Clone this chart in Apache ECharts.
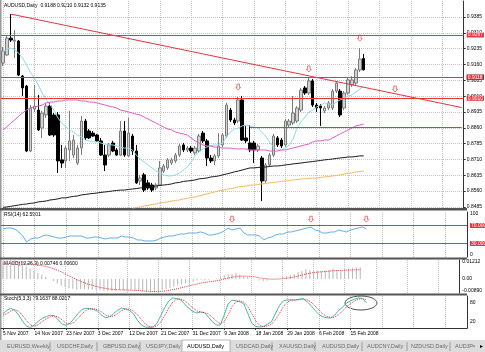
<!DOCTYPE html>
<html>
<head>
<meta charset="utf-8">
<script src="https://cdn.jsdelivr.net/npm/echarts@6/dist/echarts.min.js"></script>
<style>
html, body { margin: 0; padding: 0; background: #fff; }
#chart { width: 485px; height: 352px; }
</style>
</head>
<body>
<div id="chart"></div>
<script>
// bar dates (broker feed, incl. sunday bars)
const dates = ['5 Nov 2007','6 Nov 2007','7 Nov 2007','8 Nov 2007','9 Nov 2007','11 Nov 2007','12 Nov 2007','13 Nov 2007','14 Nov 2007','15 Nov 2007','16 Nov 2007','18 Nov 2007','19 Nov 2007','20 Nov 2007','21 Nov 2007','22 Nov 2007','23 Nov 2007','25 Nov 2007','26 Nov 2007','27 Nov 2007','28 Nov 2007','29 Nov 2007','30 Nov 2007','2 Dec 2007','3 Dec 2007','4 Dec 2007','5 Dec 2007','6 Dec 2007','7 Dec 2007','9 Dec 2007','10 Dec 2007','11 Dec 2007','12 Dec 2007','13 Dec 2007','14 Dec 2007','16 Dec 2007','17 Dec 2007','18 Dec 2007','19 Dec 2007','20 Dec 2007','21 Dec 2007','23 Dec 2007','24 Dec 2007','25 Dec 2007','26 Dec 2007','27 Dec 2007','28 Dec 2007','30 Dec 2007','31 Dec 2007','1 Jan 2008','2 Jan 2008','3 Jan 2008','4 Jan 2008','6 Jan 2008','7 Jan 2008','8 Jan 2008','9 Jan 2008','10 Jan 2008','11 Jan 2008','13 Jan 2008','14 Jan 2008','15 Jan 2008','16 Jan 2008','17 Jan 2008','18 Jan 2008','20 Jan 2008','21 Jan 2008','22 Jan 2008','23 Jan 2008','24 Jan 2008','25 Jan 2008','28 Jan 2008','29 Jan 2008','30 Jan 2008','31 Jan 2008','1 Feb 2008','2 Feb 2008','3 Feb 2008','4 Feb 2008','5 Feb 2008','6 Feb 2008','7 Feb 2008','8 Feb 2008','10 Feb 2008','11 Feb 2008','12 Feb 2008','13 Feb 2008','14 Feb 2008','15 Feb 2008','17 Feb 2008','18 Feb 2008','19 Feb 2008','20 Feb 2008'];

const tickLabels = ['5 Nov 2007','14 Nov 2007','23 Nov 2007','3 Dec 2007','12 Dec 2007','21 Dec 2007','31 Dec 2007','9 Jan 2008','18 Jan 2008','29 Jan 2008','6 Feb 2008','15 Feb 2008'];

// [open, close, low, high]
const ohlc = [
  [0.9167,0.9224,0.9153,0.9243],[0.9205,0.9285,0.9200,0.9300],[0.9285,0.9276,0.9267,0.9399],[0.9271,0.9276,0.9191,0.9323],
  [0.9271,0.9110,0.9105,0.9276],[0.9105,0.9049,0.9011,0.9110],[0.9058,0.8750,0.8745,0.9063],[0.8750,0.8954,0.8745,0.8968],
  [0.8949,0.8963,0.8935,0.9063],[0.8944,0.8850,0.8845,0.9016],[0.8859,0.8930,0.8812,0.8940],[0.8921,0.8963,0.8907,0.8978],
  [0.8963,0.8826,0.8821,0.8978],[0.8921,0.8826,0.8817,0.8930],[0.8921,0.8703,0.8646,0.8935],[0.8708,0.8693,0.8670,0.8779],
  [0.8703,0.8764,0.8670,0.8774],[0.8755,0.8798,0.8703,0.8940],[0.8731,0.8802,0.8717,0.8826],[0.8693,0.8764,0.8684,0.8779],
  [0.8764,0.8892,0.8731,0.8916],[0.8892,0.8812,0.8802,0.8902],[0.8845,0.8812,0.8807,0.8854],[0.8835,0.8821,0.8817,0.8845],
  [0.8826,0.8798,0.8793,0.8831],[0.8798,0.8731,0.8727,0.8812],[0.8731,0.8684,0.8655,0.8779],[0.8731,0.8779,0.8722,0.8788],
  [0.8788,0.8750,0.8745,0.8798],[0.8755,0.8731,0.8727,0.8764],[0.8731,0.8845,0.8727,0.8892],[0.8845,0.8731,0.8722,0.8892],
  [0.8727,0.8835,0.8722,0.8907],[0.8821,0.8750,0.8731,0.8831],[0.8750,0.8599,0.8594,0.8779],[0.8608,0.8622,0.8589,0.8637],
  [0.8637,0.8565,0.8556,0.8646],[0.8599,0.8575,0.8565,0.8613],[0.8589,0.8565,0.8556,0.8599],[0.8575,0.8589,0.8565,0.8599],
  [0.8589,0.8670,0.8584,0.8703],[0.8655,0.8679,0.8646,0.8689],[0.8670,0.8708,0.8660,0.8717],[0.8693,0.8708,0.8684,0.8717],
  [0.8703,0.8731,0.8693,0.8741],[0.8731,0.8774,0.8722,0.8783],[0.8779,0.8755,0.8745,0.8788],[0.8755,0.8764,0.8745,0.8774],
  [0.8764,0.8750,0.8741,0.8774],[0.8741,0.8764,0.8731,0.8774],[0.8750,0.8821,0.8741,0.8831],[0.8835,0.8798,0.8788,0.8845],
  [0.8798,0.8717,0.8679,0.8807],[0.8717,0.8703,0.8693,0.8731],[0.8703,0.8727,0.8684,0.8736],[0.8727,0.8774,0.8717,0.8835],
  [0.8779,0.8826,0.8769,0.8835],[0.8821,0.8968,0.8812,0.8978],[0.8944,0.8897,0.8888,0.8954],[0.8897,0.8883,0.8873,0.8907],
  [0.8892,0.8992,0.8883,0.9006],[0.8992,0.8802,0.8798,0.9011],[0.8812,0.8798,0.8788,0.8869],[0.8788,0.8755,0.8745,0.8873],
  [0.8788,0.8755,0.8693,0.8798],[0.8755,0.8774,0.8745,0.8783],[0.8717,0.8608,0.8513,0.8727],[0.8608,0.8684,0.8599,0.8693],
  [0.8684,0.8731,0.8674,0.8741],[0.8731,0.8821,0.8722,0.8831],[0.8812,0.8779,0.8769,0.8821],[0.8802,0.8774,0.8764,0.8812],
  [0.8779,0.8892,0.8769,0.8902],[0.8873,0.8892,0.8864,0.8902],[0.8883,0.8930,0.8873,0.9011],[0.8892,0.8954,0.8883,0.8963],
  [0.8944,0.9039,0.8935,0.9049],[0.9049,0.9025,0.9016,0.9058],[0.9025,0.9082,0.9016,0.9096],[0.9082,0.8968,0.8959,0.9091],
  [0.8968,0.8954,0.8935,0.8978],[0.8963,0.8954,0.8869,0.8973],[0.8940,0.8954,0.8930,0.8963],[0.8954,0.8978,0.8944,0.8987],
  [0.8954,0.9034,0.8944,0.9044],[0.9034,0.9072,0.9025,0.9082],[0.9034,0.8921,0.8911,0.9044],[0.8954,0.9025,0.8944,0.9034],
  [0.9025,0.9087,0.9016,0.9096],[0.9063,0.9087,0.9053,0.9105],[0.9072,0.9134,0.9063,0.9143],[0.9134,0.9186,0.9124,0.9238],
  [0.9188,0.9135,0.9132,0.9210]
];

// moving averages
const maCyan = [0.9219,0.9233,0.9238,0.9229,0.9214,0.9191,0.9158,0.9124,0.9096,0.9063,0.9025,0.8997,0.8968,0.8944,0.8907,0.8883,0.8864,0.8850,0.8840,0.8826,0.8817,0.8802,0.8798,0.8793,0.8793,0.8788,0.8783,0.8779,0.8779,0.8774,0.8769,0.8764,0.8764,0.8755,0.8731,0.8712,0.8698,0.8684,0.8670,0.8655,0.8646,0.8637,0.8632,0.8632,0.8637,0.8646,0.8660,0.8674,0.8698,0.8727,0.8745,0.8760,0.8769,0.8774,0.8779,0.8779,0.8788,0.8817,0.8840,0.8854,0.8859,0.8869,0.8873,0.8869,0.8864,0.8859,0.8840,0.8821,0.8793,0.8769,0.8755,0.8755,0.8764,0.8779,0.8807,0.8859,0.8888,0.8911,0.8935,0.8944,0.8959,0.8968,0.8978,0.8973,0.8968,0.8982,0.8992,0.9001,0.9011,0.9016,0.9030,0.9044,0.9058];
const maPink = [0.8850,0.8864,0.8883,0.8897,0.8916,0.8930,0.8944,0.8954,0.8959,0.8963,0.8968,0.8978,0.8982,0.8982,0.8987,0.8987,0.8992,0.8992,0.8992,0.8992,0.8987,0.8987,0.8982,0.8982,0.8978,0.8973,0.8968,0.8963,0.8959,0.8954,0.8944,0.8940,0.8935,0.8930,0.8925,0.8921,0.8911,0.8902,0.8892,0.8883,0.8873,0.8864,0.8854,0.8850,0.8840,0.8835,0.8831,0.8826,0.8812,0.8798,0.8788,0.8779,0.8774,0.8774,0.8769,0.8769,0.8764,0.8764,0.8764,0.8760,0.8760,0.8760,0.8760,0.8755,0.8755,0.8755,0.8755,0.8755,0.8750,0.8750,0.8750,0.8755,0.8755,0.8760,0.8764,0.8769,0.8774,0.8779,0.8783,0.8793,0.8798,0.8798,0.8802,0.8802,0.8812,0.8821,0.8831,0.8840,0.8850,0.8859,0.8869,0.8873,0.8878];
const maBlack = [0.8483,0.8485,0.8488,0.8491,0.8494,0.8497,0.8499,0.8502,0.8504,0.8509,0.8511,0.8513,0.8518,0.8520,0.8523,0.8528,0.8528,0.8532,0.8535,0.8537,0.8542,0.8544,0.8547,0.8549,0.8551,0.8554,0.8556,0.8558,0.8561,0.8563,0.8565,0.8565,0.8568,0.8570,0.8572,0.8575,0.8577,0.8580,0.8582,0.8584,0.8587,0.8589,0.8591,0.8594,0.8599,0.8601,0.8606,0.8608,0.8610,0.8613,0.8618,0.8620,0.8622,0.8627,0.8629,0.8632,0.8637,0.8641,0.8646,0.8651,0.8655,0.8660,0.8665,0.8670,0.8670,0.8672,0.8674,0.8674,0.8677,0.8679,0.8679,0.8681,0.8684,0.8686,0.8689,0.8691,0.8693,0.8696,0.8698,0.8700,0.8703,0.8705,0.8708,0.8710,0.8712,0.8715,0.8717,0.8719,0.8722,0.8722,0.8724,0.8727,0.8727];
const maOrangeStart = 33;
const maOrange = [0.8478,0.8482,0.8485,0.8490,0.8492,0.8497,0.8499,0.8504,0.8506,0.8509,0.8513,0.8516,0.8518,0.8523,0.8525,0.8530,0.8532,0.8537,0.8542,0.8547,0.8551,0.8556,0.8561,0.8563,0.8568,0.8572,0.8575,0.8580,0.8582,0.8584,0.8589,0.8589,0.8591,0.8594,0.8596,0.8599,0.8601,0.8603,0.8606,0.8608,0.8610,0.8613,0.8615,0.8618,0.8618,0.8620,0.8622,0.8622,0.8625,0.8627,0.8629,0.8632,0.8634,0.8637,0.8641,0.8644,0.8646,0.8651,0.8653,0.8655];

const rsi = [62.2,64.4,64.4,62.2,55.6,46.7,33.3,40.0,42.2,42.2,46.7,48.9,46.7,44.4,42.2,42.2,44.4,46.7,46.7,46.7,46.7,42.2,42.2,44.4,44.4,42.2,40.0,42.2,42.2,42.2,46.7,44.4,44.4,42.2,37.8,37.8,35.6,35.6,35.6,37.8,42.2,44.4,46.7,46.7,48.9,51.1,51.1,53.3,53.3,53.3,55.6,53.3,48.9,48.9,51.1,53.3,57.8,64.4,60.0,62.2,64.4,53.3,48.9,48.9,48.9,46.7,37.8,42.2,44.4,48.9,51.1,51.1,55.6,55.6,57.8,60.0,62.2,64.4,66.7,60.0,57.8,53.3,53.3,55.6,55.6,60.0,57.8,55.6,60.0,62.2,64.4,66.7,62.59];

const macdMain = [0.0115,0.0120,0.0121,0.0119,0.0112,0.0100,0.0078,0.0065,0.0052,0.0038,0.0025,0.0013,0.0000,-0.0012,-0.0028,-0.0042,-0.0052,-0.0058,-0.0062,-0.0066,-0.0064,-0.0065,-0.0067,-0.0068,-0.0069,-0.0072,-0.0075,-0.0074,-0.0074,-0.0075,-0.0070,-0.0072,-0.0068,-0.0068,-0.0074,-0.0078,-0.0082,-0.0084,-0.0086,-0.0084,-0.0077,-0.0071,-0.0064,-0.0057,-0.0049,-0.0041,-0.0035,-0.0029,-0.0024,-0.0018,-0.0010,-0.0005,-0.0006,-0.0005,-0.0002,0.0004,0.0012,0.0025,0.0030,0.0032,0.0040,0.0028,0.0020,0.0012,0.0006,0.0002,-0.0010,-0.0012,-0.0010,-0.0002,0.0002,0.0004,0.0012,0.0018,0.0025,0.0032,0.0045,0.0052,0.0062,0.0058,0.0055,0.0052,0.0050,0.0052,0.0058,0.0065,0.0058,0.0058,0.0062,0.0065,0.0068,0.0075,0.00746];
const macdSignal = [0.0095,0.0098,0.0101,0.0103,0.0105,0.0104,0.0101,0.0097,0.0093,0.0089,0.0085,0.0080,0.0074,0.0066,0.0056,0.0046,0.0033,0.0020,0.0008,-0.0004,-0.0015,-0.0025,-0.0033,-0.0040,-0.0047,-0.0053,-0.0058,-0.0062,-0.0065,-0.0068,-0.0069,-0.0070,-0.0070,-0.0071,-0.0072,-0.0073,-0.0075,-0.0077,-0.0079,-0.0080,-0.0080,-0.0078,-0.0075,-0.0071,-0.0066,-0.0061,-0.0055,-0.0049,-0.0043,-0.0037,-0.0031,-0.0026,-0.0022,-0.0018,-0.0015,-0.0011,-0.0006,0.0000,0.0006,0.0011,0.0016,0.0018,0.0019,0.0018,0.0016,0.0013,0.0008,0.0004,0.0001,-0.0001,-0.0001,0.0000,0.0002,0.0005,0.0009,0.0013,0.0019,0.0025,0.0032,0.0037,0.0041,0.0044,0.0046,0.0048,0.0050,0.0053,0.0054,0.0055,0.0056,0.0057,0.0058,0.0059,0.0060];

const stochMain = [45,55,62,55,40,20,5,2,10,22,30,36,40,38,25,12,8,15,30,45,58,62,60,58,52,40,32,35,45,55,62,60,55,45,25,10,3,2,3,15,40,65,85,94,92,88,75,62,52,47,50,48,35,20,10,9,40,75,87,85,82,75,45,15,5,3,5,12,20,45,70,85,88,88,87,90,92,82,70,55,42,35,32,31,40,55,65,78,85,90,94,92,79.16];
const stochSignal = [40,45,54,57,52,38,22,9,6,11,21,29,35,38,34,25,15,12,18,30,44,55,60,60,57,50,41,36,37,45,54,59,59,53,42,27,13,5,3,7,19,40,63,81,90,91,85,75,63,54,50,48,44,34,22,13,20,41,67,82,85,81,67,45,22,8,4,7,12,26,45,67,81,87,88,88,90,88,81,69,56,44,36,33,34,42,53,66,76,84,90,92,88.02];

const priceTicks = [0.8485,0.8560,0.8635,0.8710,0.8785,0.8860,0.8935,0.9010,0.9085,0.9160,0.9235,0.9310,0.9385];
// horizontal line objects on the price window
const priceLevels = [0.9267, 0.9118, 0.9010];
const supportLevel = { from: 63, price: 0.8864 };
const trendLine = [[2, 0.9399], [117, 0.8956]];
const lastPrice = 0.9135;
const priceArrows = [[60, 0.9053], [78, 0.9139], [91, 0.9285], [100, 0.9044]];
const rsiLevels = [70, 30];
const rsiArrows = [[58, 84], [78, 84], [92, 84]];
const tabNames = ['EURUSD,Weekly','USDCHF,Daily','GBPUSD,Daily','USDJPY,Daily','AUDUSD,Daily','USDCAD,Daily','XAUUSD,Daily','AUDUSD,Daily','AUDCNY,Daily','NZDUSD,Daily','AUDJP'];

const SLOTS = 118;
const xCats = dates.concat(Array.from({ length: SLOTS - dates.length }, (_, i) => 'slot' + i));
const FONT = 'Liberation Sans, Arial, sans-serif';
const GRIDC = '#c4c4c4';
const RED = '#e8343c';
const arrowPath = 'path://M2,0 L6,0 L6,5 L8,5 L4,9 L0,5 L2,5 Z';

const everyEight = (idx) => idx % 8 === 0;
const showDate = (idx, val) => tickLabels.indexOf(val) >= 0;

function xAxisFor(gi, bottom) {
  return {
    type: 'category', gridIndex: gi, data: xCats, boundaryGap: true,
    axisLine: { show: bottom, lineStyle: { color: '#333' } },
    axisTick: { show: bottom, interval: showDate, alignWithLabel: true, length: 2, lineStyle: { color: '#333' } },
    axisLabel: { show: bottom, interval: showDate, fontSize: 5, fontFamily: FONT, color: '#000', align: 'left', margin: 3 },
    splitLine: { show: true, interval: everyEight, alignWithLabel: true, lineStyle: { color: GRIDC, type: 'dotted', width: 1 } }
  };
}

const axisText = { fontSize: 5, fontFamily: FONT, color: '#000', margin: 3 };
const edgeRich = {
  t: { fontSize: 5, fontFamily: FONT, color: '#000', padding: [4, 0, 0, 0] },
  b: { fontSize: 5, fontFamily: FONT, color: '#000', padding: [0, 0, 4, 0] }
};

const macdMax = 0.01212, macdMin = -0.0089;

// compact price box on the right axis
const boxLabel = (text, bg) => ({
  show: true, position: 'end', distance: 3, formatter: text, color: '#fff',
  backgroundColor: bg, fontSize: 5, lineHeight: 5, fontFamily: FONT, padding: [0, 1]
});

const chart = echarts.init(document.getElementById('chart'));

const option = {
  animation: false,
  backgroundColor: '#fff',
  grid: [
    { left: 1, top: 1, width: 466, height: 207 },
    { left: 1, top: 212, width: 466, height: 45 },
    { left: 1, top: 260, width: 466, height: 33 },
    { left: 1, top: 296, width: 466, height: 32 }
  ],
  xAxis: [xAxisFor(0, false), xAxisFor(1, false), xAxisFor(2, false), xAxisFor(3, true)],
  yAxis: [
    {
      type: 'value', gridIndex: 0, position: 'right', min: 0.8480, max: 0.9461, scale: true,
      axisLine: { show: true, lineStyle: { color: '#333' } },
      axisTick: { show: true, length: 2, customValues: priceTicks, lineStyle: { color: '#333' } },
      axisLabel: Object.assign({ customValues: priceTicks, formatter: v => v.toFixed(4) }, axisText),
      splitLine: { show: true, lineStyle: { color: GRIDC, type: 'dotted' } }
    },
    {
      type: 'value', gridIndex: 1, position: 'right', min: 0, max: 100,
      axisLine: { show: true, lineStyle: { color: '#333' } },
      axisTick: { show: false, customValues: [0, 100] },
      axisLabel: Object.assign({ customValues: [0, 100], rich: edgeRich,
        formatter: v => v === 100 ? '{t|100}' : '{b|0}' }, axisText),
      splitLine: { show: false }
    },
    {
      type: 'value', gridIndex: 2, position: 'right', min: macdMin, max: macdMax,
      axisLine: { show: true, lineStyle: { color: '#333' } },
      axisTick: { show: false, customValues: [macdMin, 0, macdMax] },
      axisLabel: Object.assign({ customValues: [macdMin, 0, macdMax], rich: edgeRich,
        formatter: v => v === 0 ? '0.00' : (v > 0 ? '{t|' + v.toFixed(5) + '}' : '{b|' + v.toFixed(5) + '}') }, axisText),
      splitLine: { show: false }
    },
    {
      type: 'value', gridIndex: 3, position: 'right', min: 0, max: 100,
      axisLine: { show: true, lineStyle: { color: '#333' } },
      axisTick: { show: false, customValues: [0, 20, 80, 100] },
      axisLabel: Object.assign({ customValues: [0, 20, 80, 100], rich: edgeRich,
        formatter: v => v === 100 ? '{t|100}' : (v === 0 ? '{b|0}' : String(v)) }, axisText),
      splitLine: { show: false }
    }
  ],
  series: [
    {
      type: 'candlestick', xAxisIndex: 0, yAxisIndex: 0, data: ohlc, barWidth: 3,
      itemStyle: { color: '#d2d2d2', color0: '#000', borderColor: '#7c7c7c', borderColor0: '#000', borderWidth: 1 },
      markLine: {
        silent: true, symbol: ['none', 'none'], animation: false,
        data: [
          {
            yAxis: lastPrice,
            lineStyle: { color: 'rgba(0,0,0,0)', width: 0 },
            label: boxLabel(lastPrice.toFixed(4), '#000')
          }
        ].concat(priceLevels.map(p => ({
          yAxis: p,
          lineStyle: { color: RED, width: 1, type: 'solid' },
          label: boxLabel(p.toFixed(4), RED)
        })), [
          [
            { coord: [supportLevel.from, supportLevel.price], lineStyle: { color: RED, width: 1, type: 'solid' }, label: { show: false } },
            { coord: [SLOTS - 1, supportLevel.price] }
          ],
          [
            { coord: trendLine[0], lineStyle: { color: RED, width: 1, type: 'solid' }, label: { show: false } },
            { coord: trendLine[1] }
          ]
        ])
      }
    },
    { type: 'line', xAxisIndex: 0, yAxisIndex: 0, data: maCyan, symbol: 'none', lineStyle: { color: '#88dfe6', width: 1 } },
    { type: 'line', xAxisIndex: 0, yAxisIndex: 0, data: maPink, symbol: 'none', lineStyle: { color: '#e35cc6', width: 1 } },
    { type: 'line', xAxisIndex: 0, yAxisIndex: 0, data: maBlack, symbol: 'none', lineStyle: { color: '#1a1a1a', width: 1 } },
    { type: 'line', xAxisIndex: 0, yAxisIndex: 0, data: Array(maOrangeStart).fill('-').concat(maOrange), symbol: 'none', lineStyle: { color: '#f6b860', width: 1 } },
    {
      type: 'scatter', xAxisIndex: 0, yAxisIndex: 0, data: priceArrows, symbol: arrowPath, symbolSize: [5, 6],
      itemStyle: { color: '#fff', borderColor: RED, borderWidth: 0.8 }
    },
    {
      type: 'line', xAxisIndex: 1, yAxisIndex: 1, data: rsi, symbol: 'none', lineStyle: { color: '#63aee8', width: 1 },
      markLine: {
        silent: true, symbol: ['none', 'none'],
        data: rsiLevels.map(v => ({
          yAxis: v, lineStyle: { color: RED, width: 1, type: 'solid' },
          label: boxLabel(v.toFixed(4), RED)
        }))
      }
    },
    {
      type: 'scatter', xAxisIndex: 1, yAxisIndex: 1, data: rsiArrows, symbol: arrowPath, symbolSize: [5, 6],
      itemStyle: { color: '#fff', borderColor: RED, borderWidth: 0.8 }
    },
    { type: 'bar', xAxisIndex: 2, yAxisIndex: 2, data: macdMain, barWidth: 1, itemStyle: { color: '#b8b8b8' } },
    { type: 'line', xAxisIndex: 2, yAxisIndex: 2, data: macdSignal, symbol: 'none', lineStyle: { color: RED, width: 1, type: 'dotted' } },
    { type: 'line', xAxisIndex: 3, yAxisIndex: 3, data: stochMain, symbol: 'none', lineStyle: { color: '#45b9a6', width: 1 } },
    { type: 'line', xAxisIndex: 3, yAxisIndex: 3, data: stochSignal, symbol: 'none', lineStyle: { color: RED, width: 1, type: 'dotted' } }
  ],
  graphic: [
    { type: 'rect', shape: { x: 0, y: 0, width: 1.5, height: 340 }, style: { fill: '#9a9a9a' }, silent: true },
    { type: 'rect', shape: { x: 0, y: 208, width: 467, height: 2.5 }, style: { fill: '#555' }, silent: true },
    { type: 'rect', shape: { x: 0, y: 257.5, width: 467, height: 2 }, style: { fill: '#555' }, silent: true },
    { type: 'rect', shape: { x: 0, y: 293.5, width: 467, height: 2 }, style: { fill: '#555' }, silent: true },
    { type: 'text', x: 4, y: 6, style: { text: 'AUDUSD,Daily  0.9188 0.9210 0.9132 0.9135', font: '5px ' + FONT, fill: '#000', verticalAlign: 'middle' }, silent: true },
    { type: 'text', x: 4, y: 215, style: { text: 'RSI(14) 62.5901', font: '5px ' + FONT, fill: '#000', verticalAlign: 'middle' }, silent: true },
    { type: 'text', x: 4, y: 264, style: { text: 'MACD(12,26,9) 0.00746 0.00600', font: '5px ' + FONT, fill: '#000', verticalAlign: 'middle' }, silent: true },
    { type: 'text', x: 4, y: 299, style: { text: 'Stoch(5,3,3) 79.1637 88.0207', font: '5px ' + FONT, fill: '#000', verticalAlign: 'middle' }, silent: true },
    { type: 'ellipse', shape: { cx: 361, cy: 303, rx: 16, ry: 7 }, style: { fill: 'none', stroke: '#222', lineWidth: 0.8 }, silent: true },
    // tab strip
    { type: 'rect', shape: { x: 0, y: 340, width: 485, height: 12 }, style: { fill: '#dcdcdc' }, silent: true },
    { type: 'rect', shape: { x: 182, y: 340, width: 48, height: 12 }, style: { fill: '#fff', stroke: '#888', lineWidth: 0.6 }, silent: true }
  ].concat(
    [50, 97, 140, 272, 315, 362, 407, 450].map(x => ({
      type: 'line', shape: { x1: x, y1: 342, x2: x, y2: 351 }, style: { stroke: '#8c8c8c', lineWidth: 0.8 }, silent: true
    })),
    tabNames.map((name, i) => ({
      type: 'text', x: [7, 57, 103, 146, 187, 236, 279, 322, 367, 411, 455][i], y: 346.5,
      style: { text: name, font: '5.5px ' + FONT, fill: i === 4 ? '#000' : '#6a6a6a', verticalAlign: 'middle' }, silent: true
    })),
    [
      { type: 'text', x: 472, y: 346.5, style: { text: '×', font: '6px ' + FONT, fill: '#777', verticalAlign: 'middle' }, silent: true },
      { type: 'text', x: 480, y: 346.5, style: { text: '▸', font: '6px ' + FONT, fill: '#000', verticalAlign: 'middle' }, silent: true }
    ]
  )
};

chart.setOption(option);
</script>
</body>
</html>
